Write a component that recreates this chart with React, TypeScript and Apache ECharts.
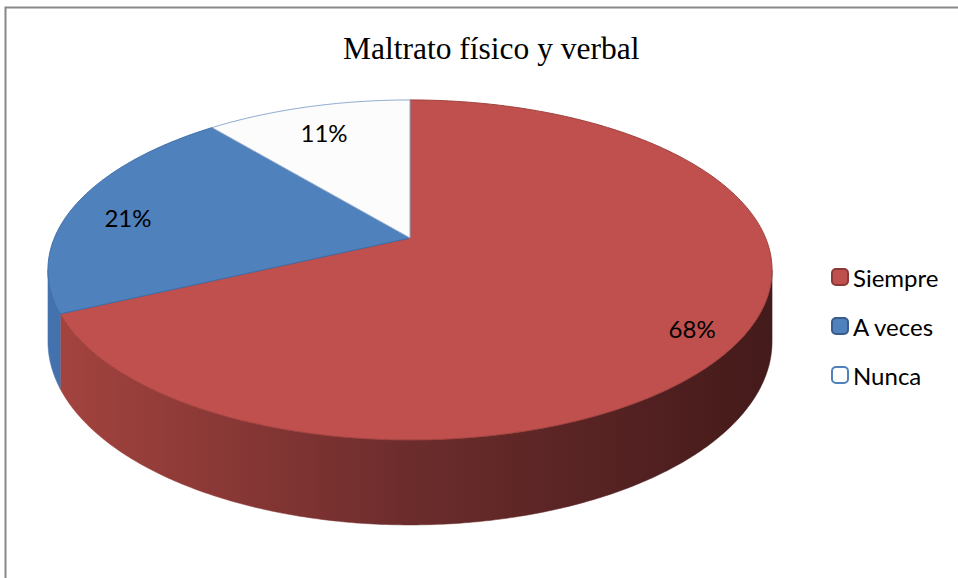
import React, { useEffect, useRef } from "react";
import * as echarts from "echarts";

const chartTitle = "Maltrato físico y verbal";
const categories = ["Siempre", "A veces", "Nunca"];
const values = [68, 21, 11];
const labels = ["68%", "21%", "11%"];
const topColors = ["#C0504D", "#4F81BD", "#FCFCFC"];
const edgeColors = ["#9E403D", "#3F6EA8", "#8FAAD0"];
const legendBorders = ["#8C3836", "#385D8A", "#4F81BD"];
const legendFills = ["#C0504D", "#4F81BD", "#FFFFFF"];

// 3D projection layout constants
const CX = 410;
const CY = 238;
const RA = 355.6;
const RB = 164;
const PERSP = 0.188;
const DEPTH = 69;

function proj(theta: number, f = 1): [number, number] {
  const X = f * Math.sin(theta);
  const Z = f * Math.cos(theta);
  const d = 1 + PERSP * Z;
  return [CX + (RA * X) / d, CY - (RB * Z) / d];
}
function projBottom(theta: number): [number, number] {
  const Z = Math.cos(theta);
  const d = 1 + PERSP * Z;
  const p = proj(theta);
  return [p[0], p[1] + DEPTH / d];
}
function arcPts(a0: number, a1: number, fn: (t: number) => [number, number]) {
  const n = Math.max(2, Math.ceil(Math.abs(a1 - a0) / 0.01));
  const pts: [number, number][] = [];
  for (let i = 0; i <= n; i++) pts.push(fn(a0 + ((a1 - a0) * i) / n));
  return pts;
}

export default function App() {
  const ref = useRef<HTMLDivElement>(null);
  useEffect(() => {
    if (!ref.current) return;
    const chart = echarts.init(ref.current, null, { renderer: "svg" });
    const total = values.reduce((s, v) => s + v, 0);
    const frontStart = Math.PI - Math.acos(PERSP); // right extreme
    const frontEnd = Math.PI + Math.acos(PERSP); // left extreme

    const wallFill = [
      new echarts.graphic.LinearGradient(
        47, 0, 772, 0,
        [
          { offset: 0, color: "#A5443F" },
          { offset: 0.5, color: "#6C2C2C" },
          { offset: 1, color: "#441A1A" },
        ],
        true
      ),
      new echarts.graphic.LinearGradient(
        47, 0, 772, 0,
        [
          { offset: 0, color: "#4372AE" },
          { offset: 1, color: "#2A4A72" },
        ],
        true
      ),
      "#DDDDDD",
    ];

    const series = categories.map((name, i) => ({
      type: "custom",
      name,
      coordinateSystem: "none",
      silent: true,
      data: [[values[i]]],
      renderItem: (_params: any, api: any) => {
        const before = values.slice(0, i).reduce((s, v) => s + v, 0);
        const v = api.value(0);
        const a0 = (before / total) * Math.PI * 2;
        const a1 = ((before + v) / total) * Math.PI * 2;
        const children: any[] = [];
        const w0 = Math.max(a0, frontStart);
        const w1 = Math.min(a1, frontEnd);
        if (w1 > w0) {
          const topPts = arcPts(w0, w1, (t) => proj(t));
          const botPts = arcPts(w1, w0, projBottom);
          children.push({
            type: "polygon",
            shape: { points: topPts.concat(botPts) },
            style: { fill: wallFill[i], stroke: wallFill[i], lineWidth: 0.5 },
          });
        }
        const rim = arcPts(a0, a1, (t) => proj(t));
        children.push({
          type: "polygon",
          shape: { points: [[CX, CY] as [number, number]].concat(rim) },
          style: { fill: topColors[i], stroke: edgeColors[i], lineWidth: 1 },
        });
        const mid = (a0 + a1) / 2;
        const lp = proj(mid, 0.85);
        children.push({
          type: "text",
          x: lp[0] + 3,
          y: lp[1] + 9,
          style: {
            text: labels[i],
            fill: "#000000",
            font: "24px Lato",
            align: "center",
            verticalAlign: "middle",
          },
        });
        return { type: "group", children };
      },
    }));

    chart.setOption({
      animation: false,
      backgroundColor: "#FFFFFF",
      title: {
        text: chartTitle,
        left: 338,
        top: 27,
        textStyle: {
          fontFamily: "Liberation Serif",
          fontSize: 31.5,
          fontWeight: "normal",
          color: "#000000",
        },
      },
      legend: {
        orient: "vertical",
        left: 826,
        top: 260,
        padding: 5,
        itemWidth: 16,
        itemHeight: 16,
        itemGap: 25,
        icon: "roundRect",
        selectedMode: false,
        textStyle: {
          fontFamily: "Lato",
          fontSize: 24,
          lineHeight: 22,
          color: "#000000",
        },
        data: categories.map((name, i) => ({
          name,
          icon: "roundRect",
          itemStyle: {
            color: legendFills[i],
            borderColor: legendBorders[i],
            borderWidth: 2,
          },
        })),
      },
      graphic: [
        {
          type: "rect",
          shape: { x: 5.5, y: 7.5, width: 1200, height: 1200 },
          style: { fill: "none", stroke: "#888888", lineWidth: 2 },
          silent: true,
        },
      ],
      series,
    });
    return () => chart.dispose();
  }, []);
  return (
    <div
      ref={ref}
      style={{ position: "absolute", left: 0, top: 0, width: 958, height: 578 }}
    />
  );
}
